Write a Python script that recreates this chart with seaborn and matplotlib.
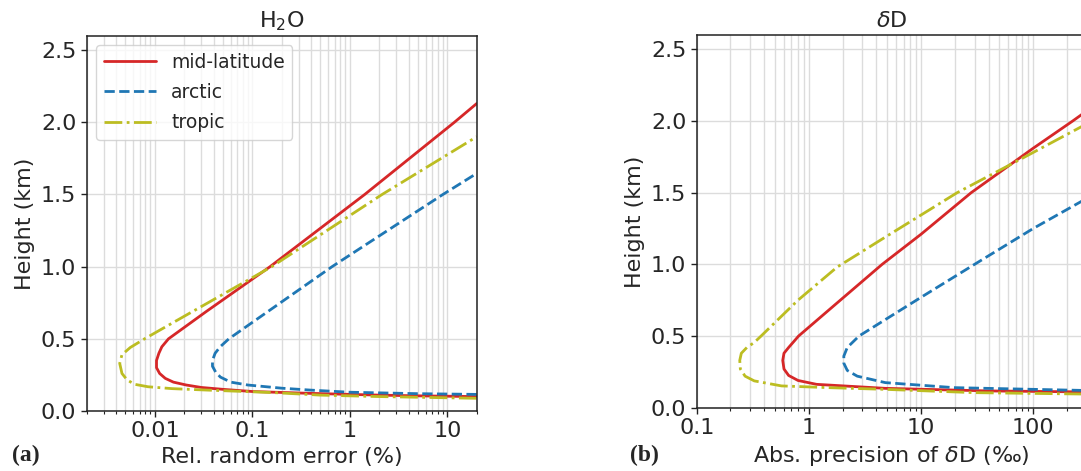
import numpy as np
import pandas as pd
import matplotlib
matplotlib.use('Agg')
import matplotlib.pyplot as plt
from matplotlib.ticker import LogLocator, FuncFormatter, NullFormatter
import seaborn as sns

# ---- panel (a): H2O relative random error (%) vs height (km)
h2o_mid_err = [20, 5, 2, 0.4, 0.1, 0.05, 0.03, 0.021, 0.0155, 0.0128, 0.0112, 0.0104,
               0.0104, 0.011, 0.0118, 0.0138, 0.0338, 0.152, 1.42, 11.8, 20]
h2o_mid_h = [0.100, 0.105, 0.110, 0.122, 0.135, 0.150, 0.163, 0.180, 0.200, 0.226, 0.26, 0.30,
             0.35, 0.40, 0.445, 0.50, 0.69, 1.0, 1.5, 2.0, 2.13]

h2o_arc_err = [20, 5, 1, 0.39, 0.2, 0.09, 0.06, 0.047, 0.042, 0.039, 0.039, 0.0415, 0.0468,
               0.0574, 0.657, 9.0, 20]
h2o_arc_h = [0.115, 0.12, 0.13, 0.145, 0.158, 0.18, 0.20, 0.235, 0.27, 0.31, 0.35, 0.40, 0.445,
             0.50, 1.0, 1.5, 1.646]

h2o_tro_err = [20, 2, 0.5, 0.17, 0.07, 0.034, 0.015, 0.0085, 0.0062, 0.0052, 0.0046, 0.00436,
               0.0046, 0.0056, 0.00784, 0.0245, 0.158, 2.14, 20]
h2o_tro_h = [0.088, 0.100, 0.110, 0.127, 0.137, 0.145, 0.155, 0.168, 0.185, 0.215, 0.26, 0.33,
             0.39, 0.44, 0.50, 0.69, 1.0, 1.5, 1.90]

# ---- panel (b): dD absolute precision (permil) vs height (km)
dd_mid_err = [300, 40, 4.8, 1.17, 0.8, 0.66, 0.6, 0.585, 0.6, 0.66, 0.81, 1.5, 4.5, 10,
              28, 100, 225, 300]
dd_mid_h = [0.11, 0.117, 0.135, 0.163, 0.19, 0.225, 0.27, 0.33, 0.38, 0.42, 0.50, 0.68,
            1.0, 1.21, 1.5, 1.81, 2.0, 2.07]

dd_arc_err = [300, 19.6, 4.8, 2.7, 2.2, 2.05, 2.05, 2.2, 2.8, 10, 30, 100, 300]
dd_arc_h = [0.12, 0.14, 0.175, 0.22, 0.26, 0.31, 0.36, 0.42, 0.50, 0.77, 1.0, 1.25, 1.46]

dd_tro_err = [300, 30, 4.8, 1.5, 0.57, 0.326, 0.27, 0.245, 0.242, 0.25, 0.28, 0.326, 0.375,
              0.8, 1.78, 4.8, 21, 80, 300]
dd_tro_h = [0.095, 0.105, 0.128, 0.14, 0.152, 0.187, 0.22, 0.27, 0.33, 0.38, 0.42, 0.455, 0.50,
            0.75, 0.98, 1.19, 1.5, 1.74, 1.98]

labels = ['mid-latitude', 'arctic', 'tropic']
colors = {'mid-latitude': '#d62728', 'arctic': '#1f77b4', 'tropic': '#bcbd22'}
styles = {'mid-latitude': '-', 'arctic': '--', 'tropic': '-.'}


def make_frame(series):
    parts = []
    for name, (err, h) in zip(labels, series):
        parts.append(pd.DataFrame({'err': err, 'height': h, 'case': name}))
    return pd.concat(parts, ignore_index=True)


df_a = make_frame([(h2o_mid_err, h2o_mid_h), (h2o_arc_err, h2o_arc_h), (h2o_tro_err, h2o_tro_h)])
df_b = make_frame([(dd_mid_err, dd_mid_h), (dd_arc_err, dd_arc_h), (dd_tro_err, dd_tro_h)])

sns.set_style('ticks')
plt.rcParams['font.family'] = ['DejaVu Sans']
plt.rcParams['mathtext.fontset'] = 'dejavusans'

W, H = 1081, 471
fig = plt.figure(figsize=(W / 100, H / 100), dpi=100)
ax1 = fig.add_axes([86.7 / W, 60 / H, 390 / W, 375.3 / H])
ax2 = fig.add_axes([696.7 / W, 63.3 / H, 390 / W, 372.7 / H])


def draw(ax, df, xlim, xlabel, title):
    for name in labels:
        sub = df[df['case'] == name]
        sns.lineplot(data=sub, x='err', y='height', sort=False, estimator=None,
                     color=colors[name], linestyle=styles[name], lw=2.0, label=name, ax=ax)
    ax.set_xscale('log')
    ax.set_xlim(*xlim)
    ax.set_ylim(0, 2.6)
    ax.set_yticks([0, 0.5, 1.0, 1.5, 2.0, 2.5])
    ax.yaxis.set_major_formatter(FuncFormatter(lambda v, p: '%.1f' % v))
    ax.xaxis.set_major_locator(LogLocator(base=10))
    ax.xaxis.set_minor_locator(LogLocator(base=10, subs=np.arange(2, 10)))
    ax.xaxis.set_major_formatter(FuncFormatter(lambda v, p: '%g' % v))
    ax.xaxis.set_minor_formatter(NullFormatter())
    ax.grid(True, which='major', axis='both', color='#dcdcdc', lw=1.0)
    ax.grid(True, which='minor', axis='x', color='#dcdcdc', lw=1.0)
    ax.set_axisbelow(True)
    for s in ax.spines.values():
        s.set_visible(True)
        s.set_color('#222222')
        s.set_linewidth(1.1)
    ax.tick_params(axis='both', which='major', labelsize=16, length=4, width=1.0, color='#222222')
    ax.tick_params(axis='x', which='minor', length=2.5, width=0.8, color='#222222')
    ax.set_xlabel(xlabel, fontsize=16)
    ax.set_ylabel('Height (km)', fontsize=16)
    ax.set_title(title, fontsize=16)


draw(ax1, df_a, (0.002, 20), 'Rel. random error (%)', 'H$_2$O')
draw(ax2, df_b, (0.1, 300), 'Abs. precision of $\\delta$D (‰)', '$\\delta$D')

leg = ax1.legend(loc='upper left', fontsize=13.5, frameon=True, handlelength=2.8,
                 labelspacing=0.6, borderaxespad=0.5, fancybox=True)
leg.get_frame().set_edgecolor('#cccccc')
ax2.get_legend().remove()

fig.text(0.011, 0.034, '(a)', family='Liberation Serif', fontweight='bold', fontsize=17, va='center')
fig.text(0.583, 0.034, '(b)', family='Liberation Serif', fontweight='bold', fontsize=17, va='center')

fig.savefig('out.png', dpi=100)
